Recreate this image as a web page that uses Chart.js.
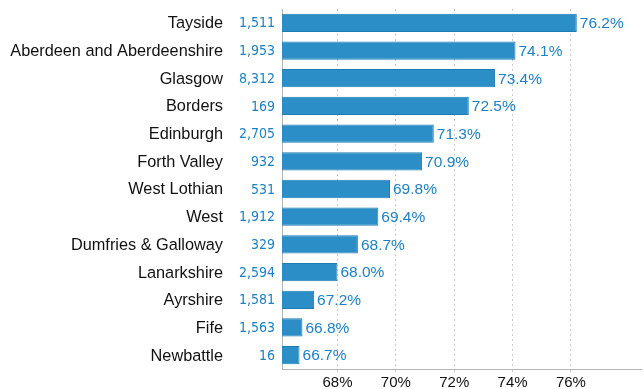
<!DOCTYPE html>
<html>
<head>
<meta charset="utf-8">
<script src="https://cdn.jsdelivr.net/npm/chart.js@4"></script>
<style>
  html, body { margin: 0; padding: 0; background: #fff; }
  canvas { display: block; }
</style>
</head>
<body>
<canvas id="regionChart" width="644" height="389"></canvas>
<script>
// Regions, respondent counts and share (%) per region
const regions = ['Tayside', 'Aberdeen and Aberdeenshire', 'Glasgow', 'Borders', 'Edinburgh',
    'Forth Valley', 'West Lothian', 'West', 'Dumfries & Galloway', 'Lanarkshire',
    'Ayrshire', 'Fife', 'Newbattle'];
const counts = ['1,511', '1,953', '8,312', '169', '2,705', '932', '531', '1,912', '329',
    '2,594', '1,581', '1,563', '16'];
const shares = [76.2, 74.1, 73.4, 72.5, 71.3, 70.9, 69.8, 69.4, 68.7, 68.0, 67.2, 66.8, 66.7];
const tickValues = [68, 70, 72, 74, 76];

const blue = '#1d80c3';

// Region names and counts to the left of the axis, value labels after each bar
const labelPlugin = {
    id: 'regionLabels',
    afterDatasetsDraw(chart) {
        const ctx = chart.ctx;
        const yScale = chart.scales.y;
        const left = yScale.right;
        ctx.save();
        ctx.textBaseline = 'middle';
        regions.forEach((name, i) => {
            const y = yScale.getPixelForValue(i);
            ctx.textAlign = 'right';
            ctx.fillStyle = '#111';
            ctx.font = '16.3px "Liberation Sans", Arial, sans-serif';
            ctx.fillText(name, left - 59, y + 1);
            ctx.fillStyle = blue;
            ctx.font = '14px "DejaVu Sans Condensed", "DejaVu Sans", Tahoma, sans-serif';
            ctx.fillText(counts[i], left - 7, y + 1);
        });
        const meta = chart.getDatasetMeta(0);
        ctx.textAlign = 'left';
        ctx.fillStyle = blue;
        ctx.font = '15.5px "Liberation Sans", Arial, sans-serif';
        meta.data.forEach((bar, i) => {
            ctx.fillText(shares[i].toFixed(1) + '%', bar.x + 3, bar.y + 1);
        });
        ctx.restore();
    }
};

const ctx = document.getElementById('regionChart').getContext('2d');
const regionChart = new Chart(ctx, {
    type: 'bar',
    data: {
        labels: regions,
        datasets: [{
            data: shares,
            backgroundColor: '#2b8ec6',
            borderColor: '#1c7db5',
            borderWidth: 1,
            borderSkipped: 'left',
            barPercentage: 0.66,
            categoryPercentage: 1
        }]
    },
    options: {
        indexAxis: 'y',
        responsive: false,
        animation: false,
        layout: { padding: { top: 9, right: 3, left: 0, bottom: 0 } },
        plugins: {
            legend: { display: false },
            tooltip: { enabled: false }
        },
        scales: {
            x: {
                min: 66.1,
                max: 78.4,
                afterBuildTicks(scale) {
                    scale.ticks = tickValues.map(v => ({ value: v }));
                },
                afterFit(scale) { scale.height = 20; },
                grid: {
                    color: '#c9c9d2',
                    lineWidth: 1,
                    tickLength: 3,
                    drawOnChartArea: true
                },
                border: { display: true, color: '#b5b5b5', width: 1, dash: [2, 3] },
                ticks: {
                    color: '#111',
                    padding: 2,
                    font: { family: '"Liberation Sans", Arial, sans-serif', size: 15 },
                    callback: v => v + '%'
                }
            },
            y: {
                afterFit(scale) { scale.width = 282; },
                grid: { display: false },
                border: { display: true, color: '#b5b5b5', width: 1 },
                ticks: { display: false }
            }
        }
    },
    plugins: [labelPlugin]
});
</script>
</body>
</html>
